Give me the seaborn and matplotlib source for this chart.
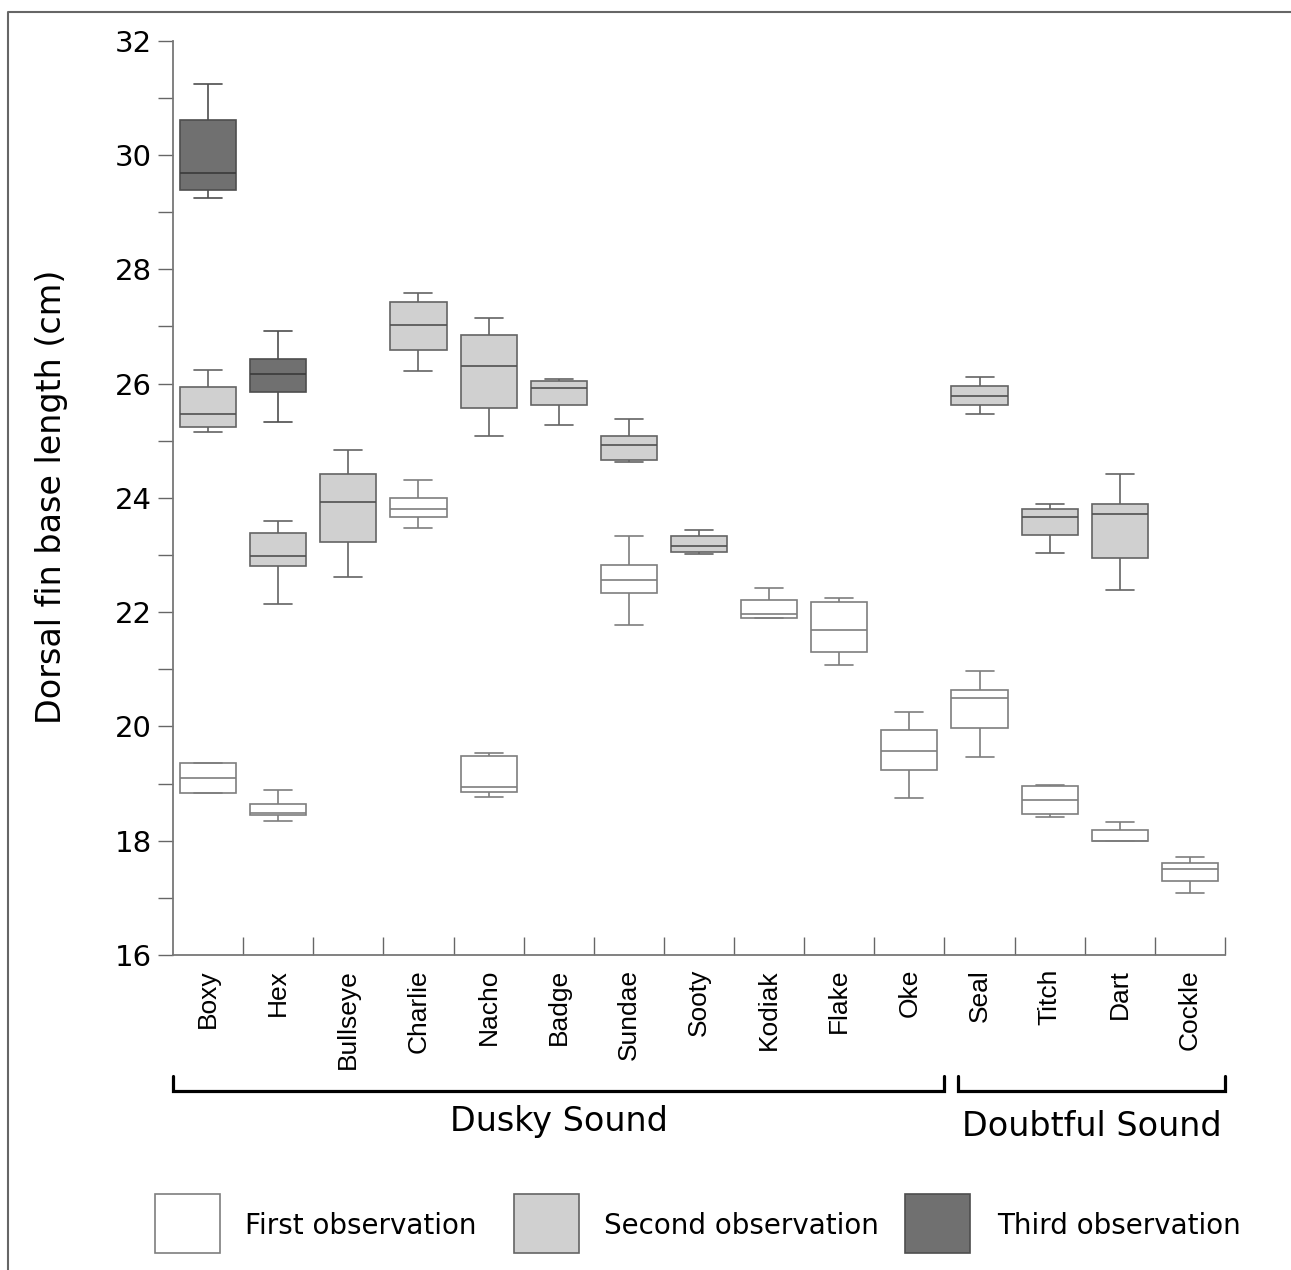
import numpy as np
import pandas as pd
import matplotlib
matplotlib.use("Agg")
import matplotlib.pyplot as plt
from matplotlib.lines import Line2D
from matplotlib.patches import Rectangle
import matplotlib.transforms as mtransforms
import seaborn as sns

sns.set_style("ticks")
plt.rcParams["font.family"] = ["DejaVu Sans"]
plt.rcParams["text.color"] = "black"
plt.rcParams["xtick.labelcolor"] = "black"
plt.rcParams["ytick.labelcolor"] = "black"

# ---------------- data ----------------
dolphins = ["Boxy", "Hex", "Bullseye", "Charlie", "Nacho", "Badge", "Sundae",
            "Sooty", "Kodiak", "Flake", "Oke", "Seal", "Titch", "Dart", "Cockle"]
groups = ["Dusky Sound", "Doubtful Sound"]
group_sizes = [11, 4]
obs_labels = ["First observation", "Second observation", "Third observation"]

# five-number summaries (min, Q1, median, Q3, max); None = no observation
first_obs = [
    (18.84, 18.84, 19.10, 19.36, 19.36),  # Boxy
    (18.35, 18.45, 18.48, 18.65, 18.89),  # Hex
    None,                                 # Bullseye
    (23.47, 23.66, 23.81, 24.00, 24.31),  # Charlie
    (18.77, 18.85, 18.94, 19.48, 19.54),  # Nacho
    None,                                 # Badge
    (21.78, 22.33, 22.57, 22.83, 23.33),  # Sundae
    None,                                 # Sooty
    (21.89, 21.90, 21.97, 22.21, 22.42),  # Kodiak
    (21.07, 21.30, 21.69, 22.18, 22.24),  # Flake
    (18.75, 19.24, 19.57, 19.94, 20.25),  # Oke
    (19.47, 19.98, 20.49, 20.63, 20.97),  # Seal
    (18.42, 18.46, 18.71, 18.95, 18.98),  # Titch
    (17.99, 17.99, 18.00, 18.18, 18.33),  # Dart
    (17.08, 17.29, 17.50, 17.61, 17.72),  # Cockle
]
second_obs = [
    (25.16, 25.24, 25.47, 25.94, 26.24),  # Boxy
    (22.15, 22.80, 22.99, 23.39, 23.60),  # Hex
    (22.62, 23.23, 23.93, 24.42, 24.84),  # Bullseye
    (26.22, 26.58, 27.03, 27.42, 27.59),  # Charlie
    (25.08, 25.57, 26.30, 26.85, 27.14),  # Nacho
    (25.28, 25.63, 25.92, 26.05, 26.08),  # Badge
    (24.62, 24.66, 24.92, 25.08, 25.38),  # Sundae
    (23.02, 23.06, 23.16, 23.33, 23.43),  # Sooty
    None,                                 # Kodiak
    None,                                 # Flake
    None,                                 # Oke
    (25.47, 25.63, 25.78, 25.95, 26.12),  # Seal
    (23.04, 23.35, 23.67, 23.80, 23.90),  # Titch
    (22.39, 22.95, 23.71, 23.89, 24.42),  # Dart
    None,                                 # Cockle
]
third_obs = [
    (29.24, 29.38, 29.68, 30.62, 31.24),  # Boxy
    (25.33, 25.85, 26.16, 26.43, 26.92),  # Hex
] + [None] * 13

y_ticks = [16, 18, 20, 22, 24, 26, 28, 30, 32]

# ---------------- styles ----------------
fills = ["#ffffff", "#d0d0d0", "#707070"]
edges = ["#7e7e7e", "#646464", "#4e4e4e"]
medians = ["#7e7e7e", "#505050", "#3a3a3a"]

rows = []
for lab, series in zip(obs_labels, [first_obs, second_obs, third_obs]):
    for d, s in zip(dolphins, series):
        if s is None:
            continue
        for v in s:
            rows.append({"dolphin": d, "obs": lab, "value": v})
df = pd.DataFrame(rows)

W, H = 1291, 1270
fig = plt.figure(figsize=(W / 100, H / 100), dpi=100)
ax = fig.add_axes([173 / W, 1 - 955 / H, (1225 - 173) / W, (955 - 40.7) / H])

for lab, fc, ec, mc in zip(obs_labels, fills, edges, medians):
    sub = df[df["obs"] == lab]
    sns.boxplot(data=sub, x="dolphin", y="value", order=dolphins, ax=ax,
                color=fc, linecolor=ec, linewidth=1.2, width=0.8, whis=np.inf,
                saturation=1, fliersize=0,
                medianprops={"color": mc, "linewidth": 1.2})

ax.set_xlim(-0.5, len(dolphins) - 0.5)
ax.set_ylim(16, 32)
ax.set_xlabel("")
ax.set_ylabel("")
for sp in ["top", "right"]:
    ax.spines[sp].set_visible(False)
for sp in ["left", "bottom"]:
    ax.spines[sp].set_color("#777777")
    ax.spines[sp].set_linewidth(1.3)

ax.set_yticks(y_ticks)
ax.set_yticks(np.arange(17, 32, 2), minor=True)
ax.tick_params(axis="y", which="both", direction="out", length=11, width=1.0,
               color="#666666", pad=4, labelsize=21, labelcolor="black")

ax.set_xticks(np.arange(len(dolphins)))
ax.set_xticklabels(dolphins, rotation=90, fontsize=19, color="black",
                   family=["Liberation Sans", "DejaVu Sans"])
ax.set_xticks(np.arange(len(dolphins)) + 0.5, minor=True)
ax.tick_params(axis="x", which="major", length=0, pad=10)
ax.tick_params(axis="x", which="minor", direction="in", length=13, width=1.0, color="#666666")

fig.text(52 / W, 1 - 497 / H, "Dorsal fin base length (cm)", rotation=90,
         ha="center", va="center", fontsize=24, color="black")

# group brackets
trans = mtransforms.blended_transform_factory(ax.transData, fig.transFigure)
y_line = 1 - 1091 / H
y_end = 1 - 1076 / H
starts = [-0.5, 10.7]
ends = [10.5, 14.5]
text_y = [1 - 1122 / H, 1 - 1127 / H]
for g, x0, x1, ty in zip(groups, starts, ends, text_y):
    fig.add_artist(Line2D([x0, x0, x1, x1], [y_end, y_line, y_line, y_end],
                          transform=trans, color="black", lw=2.3,
                          solid_joinstyle="miter"))
    fig.text((x0 + x1) / 2, ty, g, transform=trans, ha="center", va="center",
             fontsize=24, color="black")

# legend
leg_box_x = [155, 514, 905]
leg_text_x = [245, 604, 997]
for lab, fc, ec, bx, tx in zip(obs_labels, fills, edges, leg_box_x, leg_text_x):
    fig.add_artist(Rectangle((bx / W, 1 - 1253 / H), 65 / W, 59 / H,
                             transform=fig.transFigure, facecolor=fc,
                             edgecolor=ec, lw=1.2))
    fig.text(tx / W, 1 - 1226 / H, lab, ha="left", va="center", fontsize=20,
             color="black")

# outer frame (left and top)
fig.add_artist(Line2D([8 / W, 8 / W, 1.0], [0.0, 1 - 12 / H, 1 - 12 / H],
                      transform=fig.transFigure, color="#666666", lw=1.5))

fig.savefig("out.png", dpi=100)
